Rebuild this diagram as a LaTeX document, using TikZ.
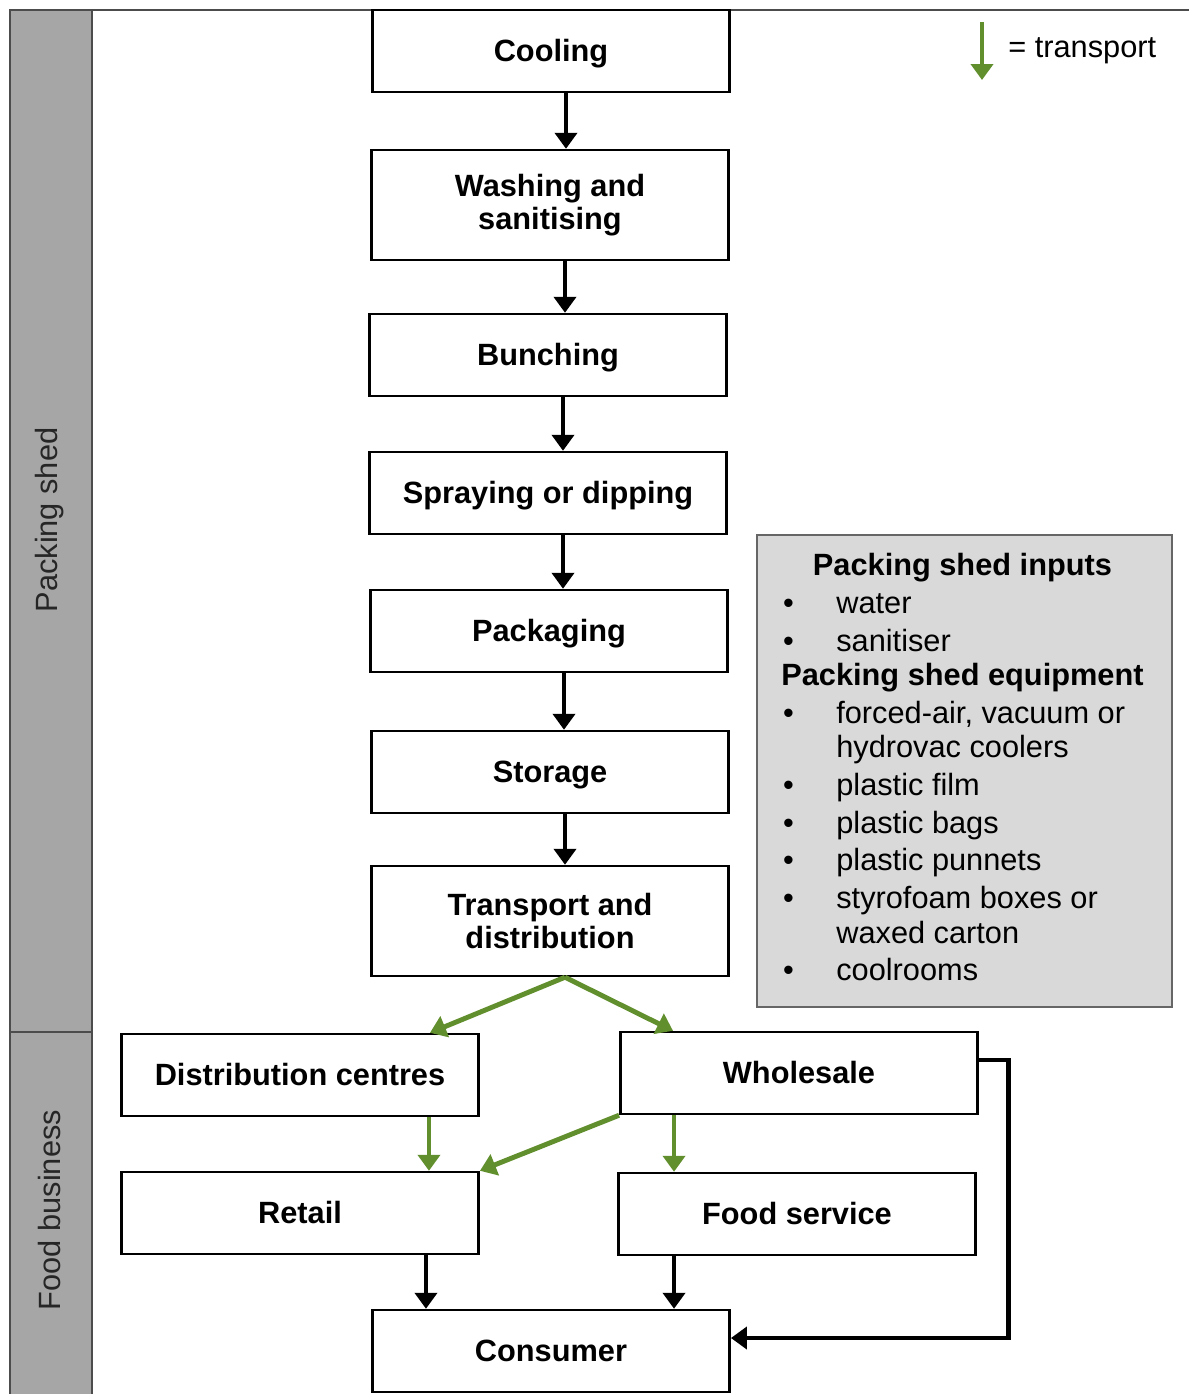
\documentclass[tikz,border=0pt]{standalone}
\usepackage{fontspec}
\setmainfont{Liberation Sans}
\usetikzlibrary{positioning}
\usetikzlibrary{arrows.meta}
\definecolor{shedgrey}{RGB}{166,166,166}
\definecolor{inputgrey}{RGB}{217,217,217}
\definecolor{transgreen}{RGB}{98,143,45}

\begin{document}
\begin{tikzpicture}[
    x=0.02cm, y=-0.02cm,
    font=\fontsize{17.5}{20.5}\selectfont
]
\tikzset{
    basebox/.style = {rectangle, draw=black, line width=1.4pt, fill=white, minimum width=7.15cm, inner sep=0pt},
    stagebox/.style = {basebox, minimum height=1.64cm, text height=14pt, text depth=1.5pt, font=\fontsize{17.5}{20.5}\selectfont\bfseries},
    tallbox/.style = {basebox, align=center, minimum height=2.2cm, font=\fontsize{17.5}{19}\selectfont\bfseries},
    flow/.style = {-{Triangle[width=0.44cm,length=0.32cm]}, line width=2.8pt, black},
    transit/.style = {-{Triangle[width=0.44cm,length=0.32cm]}, line width=2.8pt, transgreen},
    sidelabel/.style = {rotate=90, text=black!85},
    inputbox/.style = {rectangle, draw=black!60, line width=0.8pt, fill=inputgrey, minimum width=8.3cm, minimum height=9.44cm}
}
\useasboundingbox (0,0) rectangle (1189,1394);
\draw[fill=shedgrey, draw=black!70, line width=0.8pt] (10,10) rectangle (92,1032);
\draw[fill=shedgrey, draw=black!70, line width=0.8pt] (10,1032) rectangle (92,1400);
\draw[black!70, line width=0.8pt] (92,10) -- (1189,10);
\node[sidelabel] at (50,520) (shed) {Packing shed};
\node[sidelabel] at (50,1210) (biz) {Food business};

\node[stagebox] at (551,51) (cool) {Cooling};
\node[tallbox] at (550,205) (wash) {Washing and\\sanitising};
\node[stagebox] at (548,355) (bunch) {Bunching};
\node[stagebox] at (548,493) (spray) {Spraying or dipping};
\node[stagebox] at (549,631) (pack) {Packaging};
\node[stagebox] at (550,772) (store) {Storage};
\node[tallbox] at (550,921) (trans) {Transport and\\distribution};
\node[stagebox] at (300,1075) (dist) {Distribution centres};
\node[stagebox] at (799,1073) (whole) {Wholesale};
\node[stagebox] at (300,1213) (ret) {Retail};
\node[stagebox] at (797,1214) (food) {Food service};
\node[stagebox] at (551,1351) (cons) {Consumer};

\node[inputbox] at (964.5,771) (inbox) {};
\node[anchor=north west, inner sep=0pt, font=\fontsize{17.5}{21.5}\selectfont] at (781,549) (inlist) {%
\begin{tabular}{@{}p{1.1cm}@{}l@{}}
\multicolumn{2}{@{}c@{}}{\bfseries Packing shed inputs}\\
\hspace*{1pt}\textbullet & water\\
\hspace*{1pt}\textbullet & sanitiser\\[-2pt]
\multicolumn{2}{@{}l@{}}{\bfseries Packing shed equipment}\\
\hspace*{1pt}\textbullet & forced-air, vacuum or\\[-2pt]
 & hydrovac coolers\\
\hspace*{1pt}\textbullet & plastic film\\
\hspace*{1pt}\textbullet & plastic bags\\
\hspace*{1pt}\textbullet & plastic punnets\\
\hspace*{1pt}\textbullet & styrofoam boxes or\\[-2pt]
 & waxed carton\\
\hspace*{1pt}\textbullet & coolrooms
\end{tabular}};

\coordinate (legtop) at (982,22);
\coordinate (legbot) at (982,80);
\draw[transit] (legtop) -- (legbot);
\node[anchor=west, inner sep=0pt] at (1008,51) (legtext) {= transport};

\draw[flow] ([xshift=0.3cm]cool.south) -- ([xshift=0.3cm]cool.south |- wash.north);
\draw[flow] ([xshift=0.3cm]wash.south) -- ([xshift=0.3cm]wash.south |- bunch.north);
\draw[flow] ([xshift=0.3cm]bunch.south) -- ([xshift=0.3cm]bunch.south |- spray.north);
\draw[flow] ([xshift=0.3cm]spray.south) -- ([xshift=0.3cm]spray.south |- pack.north);
\draw[flow] ([xshift=0.3cm]pack.south) -- ([xshift=0.3cm]pack.south |- store.north);
\draw[flow] ([xshift=0.3cm]store.south) -- ([xshift=0.3cm]store.south |- trans.north);
\draw[transit] ([xshift=0.3cm]trans.south) -- ([xshift=2.6cm]dist.north);
\draw[transit] ([xshift=0.3cm]trans.south) -- ([xshift=-2.52cm]whole.north);
\draw[transit] ([xshift=2.58cm]dist.south) -- ([xshift=2.58cm]dist.south |- ret.north);
\draw[transit] (whole.south west) -- (ret.north east);
\draw[transit] ([xshift=-2.5cm]whole.south) -- ([xshift=-2.5cm]whole.south |- food.north);
\draw[flow] ([xshift=2.52cm]ret.south) -- ([xshift=2.52cm]ret.south |- cons.north);
\draw[flow] ([xshift=-2.46cm]food.south) -- ([xshift=-2.46cm]food.south |- cons.north);
\draw[flow] ([yshift=0.26cm]whole.east) -- ++(30,0) |- ([yshift=0.26cm]cons.east);
\end{tikzpicture}
\end{document}
